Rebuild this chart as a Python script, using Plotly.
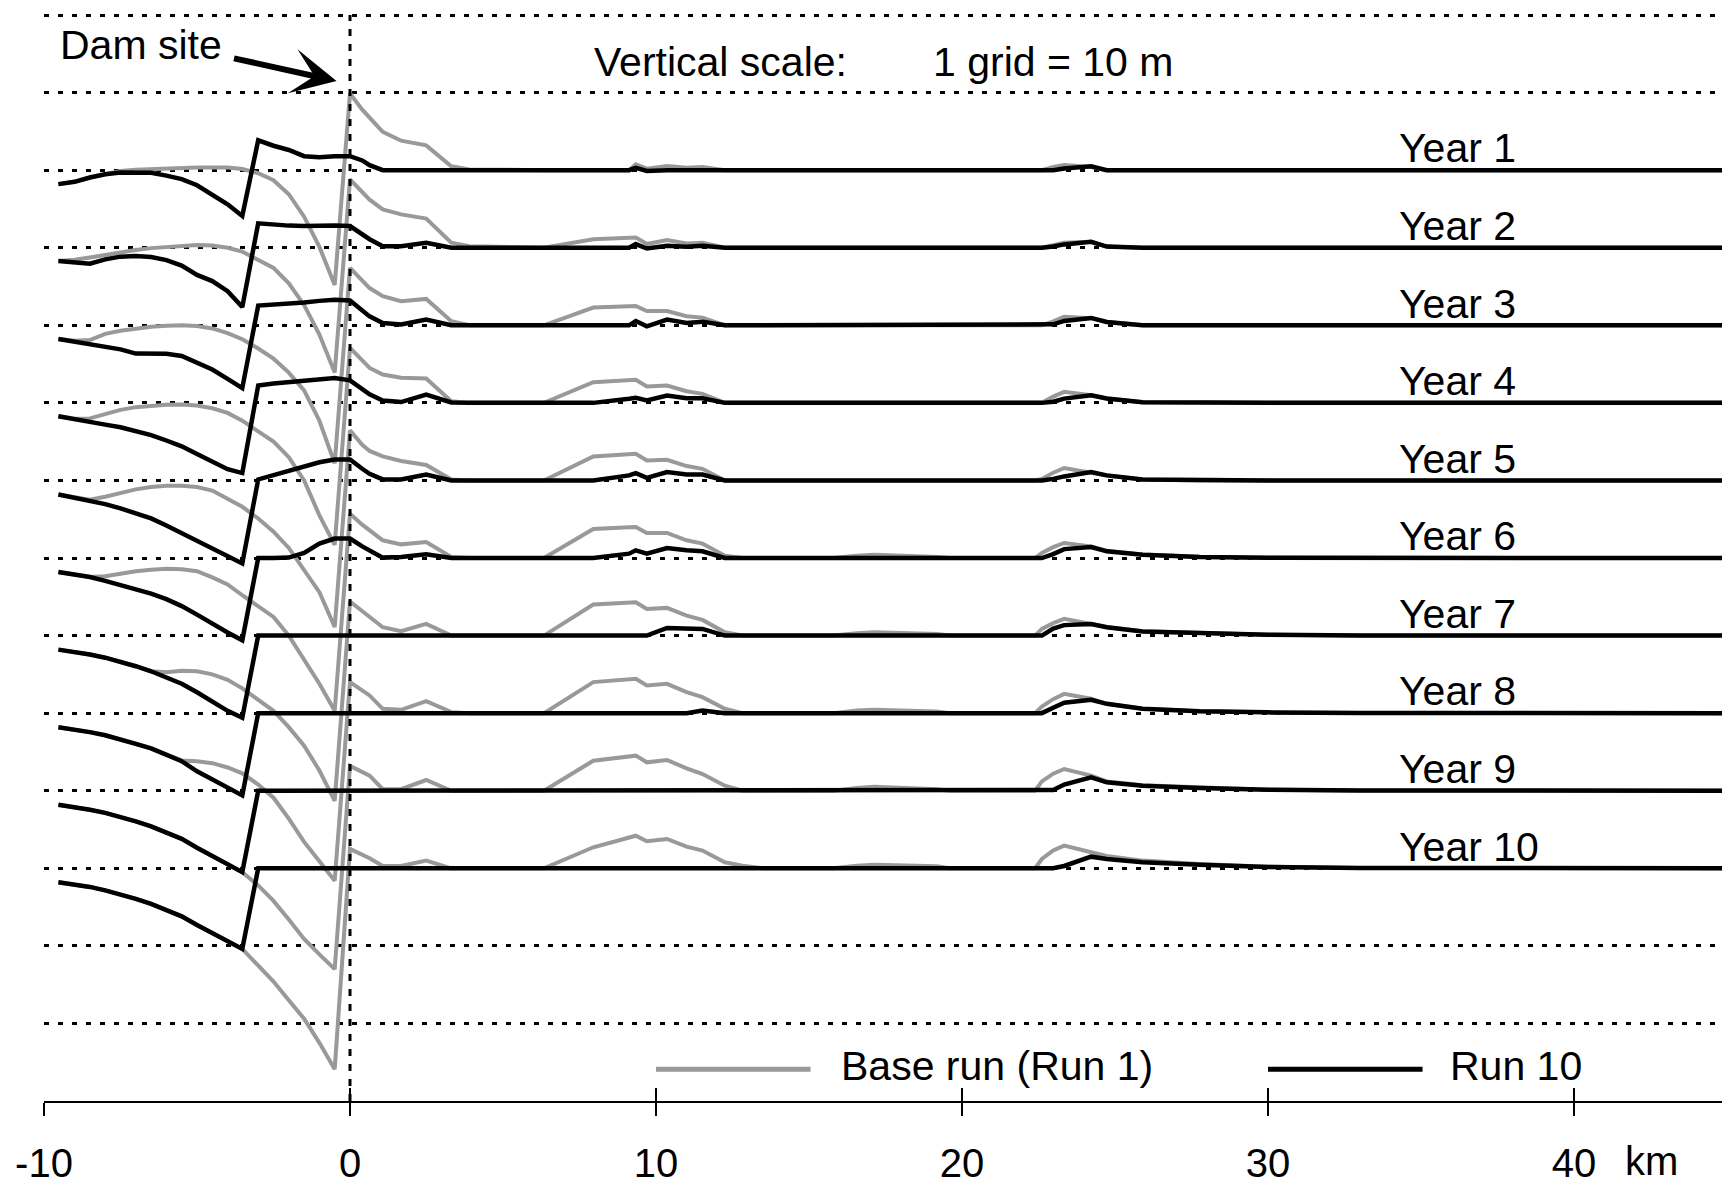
import plotly.graph_objects as go

# ---------------- data (km along river, elevation change in m) ----------------
X_KM = [-9.53, -9.0, -8.5, -8.0, -7.5, -7.0, -6.5, -6.0, -5.5, -5.0, -4.5, -4.0, -3.52, -3.0, -2.5,
        -2.0, -1.5, -1.0, -0.5, 0.0, 0.4, 0.64, 1.07, 1.67, 2.49, 3.31, 3.9,
        6.34, 7.95, 9.12, 9.34, 9.7, 10.36, 11.0, 11.52, 12.25, 12.82, 13.5, 15.8, 16.56, 17.14, 19.18, 19.6,
        22.39, 22.61, 22.98, 23.34, 24.22, 24.73, 25.9, 27.76, 30.0, 33.0, 45.5]

BASE_Y1 = [-1.8, -1.5, -0.95, -0.5, -0.1, 0.05, 0.15, 0.25, 0.3, 0.35, 0.35, 0.35, 0.15, -0.4, -1.3,
           -3.1, -6.0, -9.9, -14.8, 9.9, 7.8, 6.8, 4.95, 3.8, 3.2, 0.5, 0.1,
           0, 0, 0, 0.75, 0.2, 0.55, 0.3, 0.4, 0, 0, 0, 0, 0, 0, 0, 0,
           0, 0, 0.4, 0.65, 0.4, 0, 0, 0, 0, 0, 0]
BASE_Y2 = [-1.72, -1.55, -1.25, -0.9, -0.6, -0.3, -0.05, 0.1, 0.25, 0.35, 0.3, 0.0, -0.5, -1.5, -2.6,
           -4.6, -7.4, -11.2, -16.1, 8.8, 7.2, 6.2, 4.95, 4.3, 3.75, 0.65, 0.2,
           0, 1.08, 1.3, 1.33, 0.47, 0.99, 0.56, 0.65, 0, 0, 0, 0, 0, 0, 0, 0,
           0, 0, 0.34, 0.65, 0.77, 0.15, 0, 0, 0, 0, 0]
BASE_Y3 = [-1.76, -2.0, -1.9, -1.1, -0.7, -0.4, -0.2, -0.05, 0, -0.1, -0.4, -1.0, -1.8, -3.0, -4.3,
           -6.1, -8.4, -12.3, -17.8, 7.4, 5.7, 4.8, 3.75, 3.1, 3.4, 0.52, 0,
           0, 2.28, 2.45, 2.49, 1.85, 1.85, 1.16, 0.99, 0, 0, 0, 0, 0, 0, 0, 0,
           0, 0, 0.5, 1.1, 0.9, 0.43, 0, 0, 0, 0, 0]
BASE_Y4 = [-1.72, -2.05, -2.0, -1.4, -0.9, -0.55, -0.35, -0.25, -0.2, -0.35, -0.7, -1.3, -2.3, -3.6, -5.0,
           -7.0, -10.0, -14.5, -18.3, 7.1, 5.4, 4.5, 3.66, 3.23, 3.14, 0.2, 0,
           0, 2.67, 2.9, 2.97, 2.1, 2.24, 1.5, 1.16, 0, 0, 0, 0, 0, 0, 0, 0,
           0, 0, 0.8, 1.42, 0.99, 0.56, 0.08, 0, 0, 0, 0]
BASE_Y5 = [-1.81, -2.2, -2.5, -2.1, -1.6, -1.15, -0.85, -0.7, -0.7, -0.85, -1.3, -2.3, -3.4, -4.9, -6.6,
           -8.7, -11.6, -14.4, -18.9, 6.45, 4.6, 3.8, 3.1, 2.5, 2.0, 0.13, 0,
           0, 3.1, 3.4, 3.44, 2.58, 2.67, 1.85, 1.5, 0, 0, 0, 0, 0, 0, 0, 0,
           0, 0.2, 1.0, 1.6, 1.08, 0.65, 0.12, 0, 0, 0, 0]
BASE_Y6 = [-1.81, -2.1, -2.45, -2.35, -2.0, -1.7, -1.5, -1.38, -1.45, -1.7, -2.5, -3.4, -4.8, -6.2, -7.6,
           -10.0, -13.1, -16.2, -19.7, 5.7, 4.3, 3.57, 2.28, 1.76, 2.06, 0.13, 0,
           0, 3.74, 3.95, 4.0, 3.23, 3.23, 2.28, 1.85, 0.3, 0, 0, 0, 0.3, 0.43, 0.13, 0,
           0, 0.65, 1.4, 1.94, 1.5, 0.95, 0.45, 0.15, 0.03, 0, 0]
BASE_Y7 = [-1.81, -2.1, -2.45, -2.85, -3.35, -3.95, -4.6, -4.73, -4.55, -4.6, -5.0, -5.7, -6.8, -8.2, -9.7,
           -11.8, -14.2, -17.4, -21.3, 4.4, 3.2, 2.37, 1.08, 0.56, 1.5, 0, 0,
           0, 4.0, 4.25, 4.3, 3.44, 3.57, 2.58, 2.02, 0.43, 0, 0, 0, 0.3, 0.43, 0.2, 0,
           0, 0.86, 1.6, 2.15, 1.5, 1.1, 0.55, 0.3, 0.1, 0.02, 0]
BASE_Y8 = [-1.81, -2.1, -2.45, -2.85, -3.35, -3.95, -4.55, -5.3, -6.1, -6.2, -6.45, -7.0, -7.75, -9.2, -10.9,
           -13.6, -16.6, -19.1, -21.6, 4.0, 3.0, 2.28, 0.56, 0.43, 1.55, 0.13, 0,
           0, 4.0, 4.35, 4.43, 3.57, 3.78, 2.71, 2.06, 0.56, 0, 0, 0, 0.34, 0.43, 0.2, 0,
           0, 0.86, 1.8, 2.49, 1.85, 1.2, 0.56, 0.26, 0.1, 0.02, 0]
BASE_Y9 = [-1.81, -2.1, -2.45, -2.85, -3.35, -3.95, -4.6, -5.35, -6.2, -7.35, -8.45, -9.5, -10.5, -12.2, -14.2,
           -16.6, -19.1, -21.1, -23.0, 3.2, 2.5, 1.94, 0.2, 0.2, 1.38, 0, 0,
           0, 3.87, 4.4, 4.52, 3.66, 3.96, 2.88, 2.15, 0.65, 0, 0, 0, 0.34, 0.52, 0.2, 0,
           0, 1.2, 2.2, 2.8, 1.94, 1.2, 0.7, 0.38, 0.12, 0.03, 0]
BASE_Y10 = [-1.8, -2.1, -2.4, -2.85, -3.35, -3.95, -4.6, -5.35, -6.2, -7.3, -8.4, -9.4, -10.4, -12.5, -14.6,
            -17.0, -19.4, -22.5, -25.9, 2.5, 1.8, 1.3, 0.3, 0.3, 1.0, 0, 0,
            0, 2.71, 3.9, 4.2, 3.48, 3.78, 2.8, 2.28, 0.77, 0.34, 0, 0, 0.34, 0.47, 0.26, 0,
            0, 1.2, 2.3, 2.92, 2.06, 1.6, 0.99, 0.55, 0.2, 0.05, 0]

RUN10_Y1 = [-1.8, -1.5, -0.95, -0.52, -0.3, -0.26, -0.35, -0.7, -1.15, -1.95, -3.1, -4.4, -5.9, 3.85, 3.15,
            2.6, 1.8, 1.65, 1.8, 1.8, 1.25, 0.65, 0, 0, 0, 0, 0,
            0, 0, 0, 0.3, -0.1, 0, 0, 0, 0, 0, 0, 0, 0, 0, 0, 0,
            0, 0, 0, 0.2, 0.5, 0, 0, 0, 0, 0, 0]
RUN10_Y2 = [-1.72, -1.95, -2.05, -1.5, -1.15, -1.08, -1.2, -1.6, -2.3, -3.5, -4.3, -5.6, -7.65, 3.15, 2.95,
            2.85, 2.8, 2.85, 2.85, 2.8, 1.75, 1.1, 0.2, 0.2, 0.65, 0, 0,
            0, 0, 0, 0.47, -0.1, 0.26, 0.13, 0.26, 0, 0, 0, 0, 0, 0, 0, 0,
            0, 0, 0.15, 0.43, 0.77, 0.15, 0, 0, 0, 0, 0]
RUN10_Y3 = [-1.76, -2.1, -2.5, -2.8, -3.1, -3.65, -3.66, -3.66, -3.95, -4.75, -5.7, -6.9, -8.1, 2.55, 2.65,
            2.8, 2.95, 3.15, 3.3, 3.2, 2.0, 1.15, 0.3, 0.1, 0.73, 0, 0,
            0, 0, 0, 0.56, -0.13, 0.73, 0.3, 0.47, 0, 0, 0, 0, 0, 0, 0, 0,
            0, 0, 0.13, 0.56, 0.95, 0.43, 0, 0, 0, 0, 0]
RUN10_Y4 = [-1.72, -2.05, -2.37, -2.8, -3.15, -3.65, -4.15, -4.85, -5.6, -6.6, -7.55, -8.55, -9.05, 2.25, 2.5,
            2.7, 2.85, 3.05, 3.2, 2.9, 1.8, 1.1, 0.3, 0.1, 1.08, 0.05, 0,
            0, 0, 0.52, 0.65, 0.3, 0.95, 0.6, 0.6, 0, 0, 0, 0, 0, 0, 0, 0,
            0, 0, 0.15, 0.55, 0.99, 0.56, 0.08, 0, 0, 0, 0]
RUN10_Y5 = [-1.81, -2.2, -2.58, -3.05, -3.6, -4.2, -4.9, -5.8, -6.8, -7.8, -8.8, -9.8, -10.7, 0.13, 0.7,
            1.15, 1.85, 2.35, 2.7, 2.7, 1.5, 0.85, 0.13, 0.13, 0.77, 0, 0,
            0, 0, 0.65, 0.95, 0.34, 1.08, 0.77, 0.77, 0, 0, 0, 0, 0, 0, 0, 0,
            0, 0, 0.2, 0.52, 1.08, 0.65, 0.12, 0, 0, 0, 0]
RUN10_Y6 = [-1.81, -2.1, -2.45, -2.95, -3.45, -4.0, -4.6, -5.3, -6.2, -7.3, -8.5, -9.6, -10.6, 0, 0,
            0.05, 0.65, 1.85, 2.5, 2.5, 1.5, 0.99, 0.05, 0.13, 0.47, 0, 0,
            0, 0, 0.56, 0.99, 0.56, 1.29, 0.99, 0.86, 0, 0, 0, 0, 0, 0, 0, 0,
            0, 0, 0.5, 1.15, 1.42, 0.86, 0.43, 0.13, 0.03, 0, 0]
RUN10_Y7 = [-1.81, -2.1, -2.45, -2.85, -3.35, -3.95, -4.6, -5.35, -6.2, -7.3, -8.55, -9.7, -10.6, 0, 0,
            0, 0, 0, 0, 0, 0, 0, 0, 0, 0, 0, 0,
            0, 0, 0, 0, 0, 0.99, 0.86, 0.86, 0, 0, 0, 0, 0, 0, 0, 0,
            0, 0, 0.9, 1.35, 1.5, 1.08, 0.52, 0.3, 0.1, 0.02, 0]
RUN10_Y8 = [-1.81, -2.1, -2.45, -2.85, -3.35, -3.95, -4.55, -5.3, -6.2, -7.5, -8.6, -9.6, -10.6, 0, 0,
            0, 0, 0, 0, 0, 0, 0, 0, 0, 0, 0, 0,
            0, 0, 0, 0, 0, 0, 0, 0.34, 0, 0, 0, 0, 0, 0, 0, 0,
            0, 0, 0.7, 1.35, 1.72, 1.2, 0.56, 0.26, 0.1, 0.02, 0]
RUN10_Y9 = [-1.81, -2.1, -2.45, -2.85, -3.35, -3.95, -4.6, -5.35, -6.2, -7.35, -8.45, -9.5, -10.5, 0, 0,
            0, 0, 0, 0, 0, 0, 0, 0, 0, 0, 0, 0,
            0, 0, 0, 0, 0, 0, 0, 0, 0, 0, 0, 0, 0, 0, 0, 0,
            0, 0, 0.1, 0.8, 1.72, 1.08, 0.65, 0.34, 0.12, 0.03, 0]
RUN10_Y10 = [-1.8, -2.1, -2.4, -2.85, -3.35, -3.95, -4.6, -5.35, -6.2, -7.3, -8.4, -9.4, -10.4, 0, 0,
             0, 0, 0, 0, 0, 0, 0, 0, 0, 0, 0, 0,
             0, 0, 0, 0, 0, 0, 0, 0, 0, 0, 0, 0, 0, 0, 0, 0,
             0, 0, 0, 0.3, 1.5, 1.2, 0.77, 0.47, 0.18, 0.04, 0]

YEARS = [1, 2, 3, 4, 5, 6, 7, 8, 9, 10]
YEAR_LABELS = ["Year %d" % k for k in YEARS]
BASE_RUNS = [BASE_Y1, BASE_Y2, BASE_Y3, BASE_Y4, BASE_Y5, BASE_Y6, BASE_Y7, BASE_Y8, BASE_Y9, BASE_Y10]
RUN10_RUNS = [RUN10_Y1, RUN10_Y2, RUN10_Y3, RUN10_Y4, RUN10_Y5, RUN10_Y6, RUN10_Y7, RUN10_Y8, RUN10_Y9, RUN10_Y10]
TICK_VALS = [-10, 0, 10, 20, 30, 40]
TICK_TEXT = ["-10", "0", "10", "20", "30", "40"]
GRID_M = 10  # 1 grid = 10 m
LEGEND_NAMES = ["Base run (Run 1)", "Run 10"]

for arr in BASE_RUNS + RUN10_RUNS:
    assert len(arr) == len(X_KM), len(arr)

# ---------------- geometry / style ----------------
W, H = 1722, 1184
ML, MB = 44, 83
PX_PER_KM = 30.6
PX_PER_M = 7.757
X_MIN = -10
X_MAX = X_MIN + (W - ML) / PX_PER_KM
Y_MIN = -13 * GRID_M
Y_MAX = Y_MIN + (H - MB) / PX_PER_M
FONT = "Liberation Sans, Arial, sans-serif"
GRAY = "#999999"
TXT = 41

fig = go.Figure()

def offset(k):
    return -GRID_M * k

for k, vals in zip(YEARS, BASE_RUNS):
    fig.add_trace(go.Scatter(x=X_KM, y=[offset(k) + v for v in vals], mode="lines",
                             line=dict(color=GRAY, width=4), hoverinfo="skip", showlegend=False))
for k, vals in zip(YEARS, RUN10_RUNS):
    fig.add_trace(go.Scatter(x=X_KM, y=[offset(k) + v for v in vals], mode="lines",
                             line=dict(color="black", width=4.5), hoverinfo="skip", showlegend=False))

# invisible trace to activate the overlay axis (upper half of cross ticks)
fig.add_trace(go.Scatter(x=[X_MIN], y=[Y_MIN], xaxis="x2", mode="markers",
                         marker=dict(opacity=0), hoverinfo="skip", showlegend=False))

shapes = [
    dict(type="line", xref="x", yref="y", x0=0, x1=0, y0=Y_MIN, y1=GRID_M,
         line=dict(color="black", width=3, dash="7px,8px"), layer="above"),
    dict(type="line", xref="x", yref="y", x0=10, x1=15.05, y0=-125.9, y1=-125.9,
         line=dict(color=GRAY, width=5)),
    dict(type="line", xref="x", yref="y", x0=30, x1=35.05, y0=-125.9, y1=-125.9,
         line=dict(color="black", width=5)),
]

ann = []
def text(t, x, y, xanchor="left", yref="y", size=TXT):
    ann.append(dict(text=t, x=x, y=y, xref="x", yref=yref, xanchor=xanchor, yanchor="middle",
                    showarrow=False, font=dict(family=FONT, size=size, color="black")))

text("Dam site", -9.53, 6.13)
text("Vertical scale:", 7.92, 3.94)
text("1 grid = 10 m", 18.98, 3.94)
for k, lab in zip(YEARS, YEAR_LABELS):
    text(lab, 34.2, offset(k) + 2.8)
text(LEGEND_NAMES[0], 15.98, -125.5)
text(LEGEND_NAMES[1], 35.87, -125.5)
text("km", 41.59, -60 / (H - MB), yref="paper", size=40)

ann.append(dict(x=-0.44, y=1.49, ax=-3.84, ay=4.46, xref="x", yref="y", axref="x", ayref="y",
                text="", showarrow=True, arrowhead=3, arrowsize=1.25, arrowwidth=6,
                arrowcolor="black", standoff=0))

fig.update_layout(
    width=W, height=H,
    margin=dict(l=ML, r=0, t=0, b=MB, pad=0, autoexpand=False),
    paper_bgcolor="white", plot_bgcolor="white",
    showlegend=False,
    shapes=shapes, annotations=ann,
    xaxis=dict(range=[X_MIN, X_MAX], tickvals=TICK_VALS, ticktext=TICK_TEXT, automargin=False,
               showgrid=False, zeroline=False, showline=True, linecolor="black", linewidth=2,
               ticks="outside", ticklen=13, tickwidth=2, tickcolor="black",
               ticklabelstandoff=13,
               tickfont=dict(family=FONT, size=40, color="black")),
    xaxis2=dict(range=[X_MIN, X_MAX], overlaying="x", anchor="y", side="bottom", automargin=False,
                tickvals=TICK_VALS, ticks="inside", ticklen=13, tickwidth=2, tickcolor="black",
                showticklabels=False, showgrid=False, zeroline=False, showline=False),
    yaxis=dict(range=[Y_MIN, Y_MAX], tickvals=list(range(-12 * GRID_M, GRID_M + 1, GRID_M)),
               automargin=False,
               showticklabels=False, ticks="", showline=False, zeroline=False,
               showgrid=True, gridcolor="black", gridwidth=3, griddash="5px,9px"),
)

fig.write_html("out.html")
